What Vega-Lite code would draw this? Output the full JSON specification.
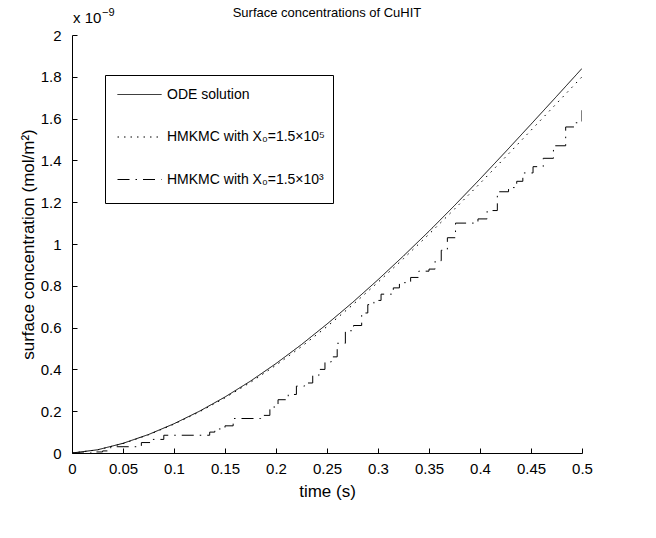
{
  "$schema": "https://vega.github.io/schema/vega-lite/v6.json",
  "width": 510,
  "height": 418,
  "autosize": {"type": "none"},
  "padding": {"left": 72, "top": 35, "right": 74, "bottom": 85},
  "background": "white",
  "config": {
    "font": "Liberation Sans",
    "view": {"stroke": null},
    "axis": {
      "domainColor": "black",
      "tickColor": "black",
      "labelColor": "black",
      "titleColor": "black",
      "grid": false,
      "tickSize": -5,
      "labelFontSize": 15,
      "titleFontSize": 17,
      "titleFontWeight": "normal",
      "labelFont": "Liberation Sans",
      "titleFont": "Liberation Sans"
    },
    "legend": {
      "orient": "none",
      "legendX": 33,
      "legendY": 40,
      "strokeColor": "black",
      "fillColor": "white",
      "padding": 8,
      "symbolType": "M-2,0H2",
      "symbolSize": 484,
      "symbolOffset": 15,
      "symbolStrokeWidth": 1,
      "symbolStrokeColor": "black",
      "labelFontSize": 14,
      "labelOffset": 16,
      "rowPadding": 23.5,
      "labelColor": "black",
      "labelLimit": 400,
      "titleOrient": "bottom",
      "titleFontSize": 6,
      "titlePadding": 2
    }
  },
  "title": {
    "text": "Surface concentrations of CuHIT",
    "fontSize": 13,
    "fontWeight": "normal",
    "color": "black",
    "font": "Liberation Sans",
    "offset": -13
  },
  "datasets": {
    "curves": [
      {"series": "ODE solution", "t": 0.0, "v": 0.0},
      {"series": "ODE solution", "t": 0.025, "v": 0.0153},
      {"series": "ODE solution", "t": 0.05, "v": 0.0463},
      {"series": "ODE solution", "t": 0.075, "v": 0.0884},
      {"series": "ODE solution", "t": 0.1, "v": 0.140},
      {"series": "ODE solution", "t": 0.125, "v": 0.200},
      {"series": "ODE solution", "t": 0.15, "v": 0.268},
      {"series": "ODE solution", "t": 0.175, "v": 0.344},
      {"series": "ODE solution", "t": 0.2, "v": 0.428},
      {"series": "ODE solution", "t": 0.225, "v": 0.519},
      {"series": "ODE solution", "t": 0.25, "v": 0.617},
      {"series": "ODE solution", "t": 0.275, "v": 0.720},
      {"series": "ODE solution", "t": 0.3, "v": 0.829},
      {"series": "ODE solution", "t": 0.325, "v": 0.943},
      {"series": "ODE solution", "t": 0.35, "v": 1.061},
      {"series": "ODE solution", "t": 0.375, "v": 1.184},
      {"series": "ODE solution", "t": 0.4, "v": 1.311},
      {"series": "ODE solution", "t": 0.425, "v": 1.441},
      {"series": "ODE solution", "t": 0.45, "v": 1.573},
      {"series": "ODE solution", "t": 0.475, "v": 1.706},
      {"series": "ODE solution", "t": 0.5, "v": 1.840},
      {"series": "HMKMC with X₀=1.5×10⁵", "t": 0.0, "v": 0.0},
      {"series": "HMKMC with X₀=1.5×10⁵", "t": 0.025, "v": 0.015},
      {"series": "HMKMC with X₀=1.5×10⁵", "t": 0.05, "v": 0.045},
      {"series": "HMKMC with X₀=1.5×10⁵", "t": 0.075, "v": 0.087},
      {"series": "HMKMC with X₀=1.5×10⁵", "t": 0.1, "v": 0.138},
      {"series": "HMKMC with X₀=1.5×10⁵", "t": 0.125, "v": 0.197},
      {"series": "HMKMC with X₀=1.5×10⁵", "t": 0.15, "v": 0.264},
      {"series": "HMKMC with X₀=1.5×10⁵", "t": 0.175, "v": 0.338},
      {"series": "HMKMC with X₀=1.5×10⁵", "t": 0.2, "v": 0.420},
      {"series": "HMKMC with X₀=1.5×10⁵", "t": 0.225, "v": 0.509},
      {"series": "HMKMC with X₀=1.5×10⁵", "t": 0.25, "v": 0.605},
      {"series": "HMKMC with X₀=1.5×10⁵", "t": 0.275, "v": 0.708},
      {"series": "HMKMC with X₀=1.5×10⁵", "t": 0.3, "v": 0.817},
      {"series": "HMKMC with X₀=1.5×10⁵", "t": 0.325, "v": 0.930},
      {"series": "HMKMC with X₀=1.5×10⁵", "t": 0.35, "v": 1.047},
      {"series": "HMKMC with X₀=1.5×10⁵", "t": 0.375, "v": 1.167},
      {"series": "HMKMC with X₀=1.5×10⁵", "t": 0.4, "v": 1.290},
      {"series": "HMKMC with X₀=1.5×10⁵", "t": 0.425, "v": 1.416},
      {"series": "HMKMC with X₀=1.5×10⁵", "t": 0.45, "v": 1.544},
      {"series": "HMKMC with X₀=1.5×10⁵", "t": 0.475, "v": 1.672},
      {"series": "HMKMC with X₀=1.5×10⁵", "t": 0.5, "v": 1.800},
      {"series": "HMKMC with X₀=1.5×10³", "t": 0.0, "v": 0.0},
      {"series": "HMKMC with X₀=1.5×10³", "t": 0.02, "v": 0.005},
      {"series": "HMKMC with X₀=1.5×10³", "t": 0.03, "v": 0.01},
      {"series": "HMKMC with X₀=1.5×10³", "t": 0.038, "v": 0.03},
      {"series": "HMKMC with X₀=1.5×10³", "t": 0.068, "v": 0.05},
      {"series": "HMKMC with X₀=1.5×10³", "t": 0.078, "v": 0.065},
      {"series": "HMKMC with X₀=1.5×10³", "t": 0.09, "v": 0.085},
      {"series": "HMKMC with X₀=1.5×10³", "t": 0.135, "v": 0.1},
      {"series": "HMKMC with X₀=1.5×10³", "t": 0.14, "v": 0.115},
      {"series": "HMKMC with X₀=1.5×10³", "t": 0.15, "v": 0.13},
      {"series": "HMKMC with X₀=1.5×10³", "t": 0.158, "v": 0.165},
      {"series": "HMKMC with X₀=1.5×10³", "t": 0.185, "v": 0.18},
      {"series": "HMKMC with X₀=1.5×10³", "t": 0.194, "v": 0.22},
      {"series": "HMKMC with X₀=1.5×10³", "t": 0.202, "v": 0.255},
      {"series": "HMKMC with X₀=1.5×10³", "t": 0.212, "v": 0.28},
      {"series": "HMKMC with X₀=1.5×10³", "t": 0.22, "v": 0.32},
      {"series": "HMKMC with X₀=1.5×10³", "t": 0.228, "v": 0.335},
      {"series": "HMKMC with X₀=1.5×10³", "t": 0.236, "v": 0.37},
      {"series": "HMKMC with X₀=1.5×10³", "t": 0.242, "v": 0.4},
      {"series": "HMKMC with X₀=1.5×10³", "t": 0.248, "v": 0.435},
      {"series": "HMKMC with X₀=1.5×10³", "t": 0.254, "v": 0.46},
      {"series": "HMKMC with X₀=1.5×10³", "t": 0.26, "v": 0.525},
      {"series": "HMKMC with X₀=1.5×10³", "t": 0.268, "v": 0.585},
      {"series": "HMKMC with X₀=1.5×10³", "t": 0.276, "v": 0.61},
      {"series": "HMKMC with X₀=1.5×10³", "t": 0.284, "v": 0.67},
      {"series": "HMKMC with X₀=1.5×10³", "t": 0.29, "v": 0.71},
      {"series": "HMKMC with X₀=1.5×10³", "t": 0.296, "v": 0.73},
      {"series": "HMKMC with X₀=1.5×10³", "t": 0.303, "v": 0.76},
      {"series": "HMKMC with X₀=1.5×10³", "t": 0.315, "v": 0.79},
      {"series": "HMKMC with X₀=1.5×10³", "t": 0.321, "v": 0.815},
      {"series": "HMKMC with X₀=1.5×10³", "t": 0.332, "v": 0.84},
      {"series": "HMKMC with X₀=1.5×10³", "t": 0.34, "v": 0.87},
      {"series": "HMKMC with X₀=1.5×10³", "t": 0.35, "v": 0.88},
      {"series": "HMKMC with X₀=1.5×10³", "t": 0.356, "v": 0.92},
      {"series": "HMKMC with X₀=1.5×10³", "t": 0.362, "v": 0.97},
      {"series": "HMKMC with X₀=1.5×10³", "t": 0.368, "v": 1.03},
      {"series": "HMKMC with X₀=1.5×10³", "t": 0.376, "v": 1.1},
      {"series": "HMKMC with X₀=1.5×10³", "t": 0.398, "v": 1.12},
      {"series": "HMKMC with X₀=1.5×10³", "t": 0.407, "v": 1.16},
      {"series": "HMKMC with X₀=1.5×10³", "t": 0.417, "v": 1.25},
      {"series": "HMKMC with X₀=1.5×10³", "t": 0.428, "v": 1.27},
      {"series": "HMKMC with X₀=1.5×10³", "t": 0.436, "v": 1.3},
      {"series": "HMKMC with X₀=1.5×10³", "t": 0.442, "v": 1.34},
      {"series": "HMKMC with X₀=1.5×10³", "t": 0.452, "v": 1.37},
      {"series": "HMKMC with X₀=1.5×10³", "t": 0.462, "v": 1.41},
      {"series": "HMKMC with X₀=1.5×10³", "t": 0.472, "v": 1.47},
      {"series": "HMKMC with X₀=1.5×10³", "t": 0.484, "v": 1.56},
      {"series": "HMKMC with X₀=1.5×10³", "t": 0.494, "v": 1.58},
      {"series": "HMKMC with X₀=1.5×10³", "t": 0.5, "v": 1.64}
    ]
  },
  "layer": [
    {
      "data": {"name": "curves"},
      "transform": [{"filter": {"field": "series", "oneOf": ["ODE solution", "HMKMC with X₀=1.5×10⁵"]}}],
      "mark": {"type": "line", "color": "black", "strokeWidth": 1, "interpolate": "linear", "clip": true},
      "encoding": {
        "x": {
          "field": "t", "type": "quantitative",
          "scale": {"domain": [0, 0.5], "nice": false},
          "axis": {"title": "time (s)", "values": [0, 0.05, 0.1, 0.15, 0.2, 0.25, 0.3, 0.35, 0.4, 0.45, 0.5], "format": "~g", "labelPadding": 13, "titlePadding": 7, "labelFlush": false}
        },
        "y": {
          "field": "v", "type": "quantitative",
          "scale": {"domain": [0, 2], "nice": false},
          "axis": {"title": "surface concentration (mol/m²)", "values": [0, 0.2, 0.4, 0.6, 0.8, 1, 1.2, 1.4, 1.6, 1.8, 2], "format": "~g", "labelPadding": 16, "titlePadding": 3, "labelFlush": false}
        },
        "strokeDash": {
          "field": "series", "type": "nominal",
          "scale": {
            "domain": ["ODE solution", "HMKMC with X₀=1.5×10⁵", "HMKMC with X₀=1.5×10³"],
            "range": [[1, 0], [1.5, 5], [12, 6, 1.5, 6]]
          },
          "legend": {"title": " "}
        }
      }
    },
    {
      "data": {"name": "curves"},
      "transform": [{"filter": {"field": "series", "equal": "HMKMC with X₀=1.5×10³"}}],
      "mark": {"type": "line", "color": "black", "strokeWidth": 1, "interpolate": "step-after", "clip": true},
      "encoding": {
        "x": {"field": "t", "type": "quantitative"},
        "y": {"field": "v", "type": "quantitative"},
        "strokeDash": {"field": "series", "type": "nominal"}
      }
    },
    {
      "data": {"values": [{"note": "x 10"}]},
      "mark": {"type": "text", "align": "left", "baseline": "alphabetic", "fontSize": 15, "color": "black", "font": "Liberation Sans", "dy": -12, "dx": 1},
      "encoding": {"x": {"datum": 0}, "y": {"datum": 2}, "text": {"field": "note"}}
    },
    {
      "data": {"values": [{"note": "−9"}]},
      "mark": {"type": "text", "align": "left", "baseline": "alphabetic", "fontSize": 11, "color": "black", "font": "Liberation Sans", "dy": -19, "dx": 30},
      "encoding": {"x": {"datum": 0}, "y": {"datum": 2}, "text": {"field": "note"}}
    }
  ]
}
